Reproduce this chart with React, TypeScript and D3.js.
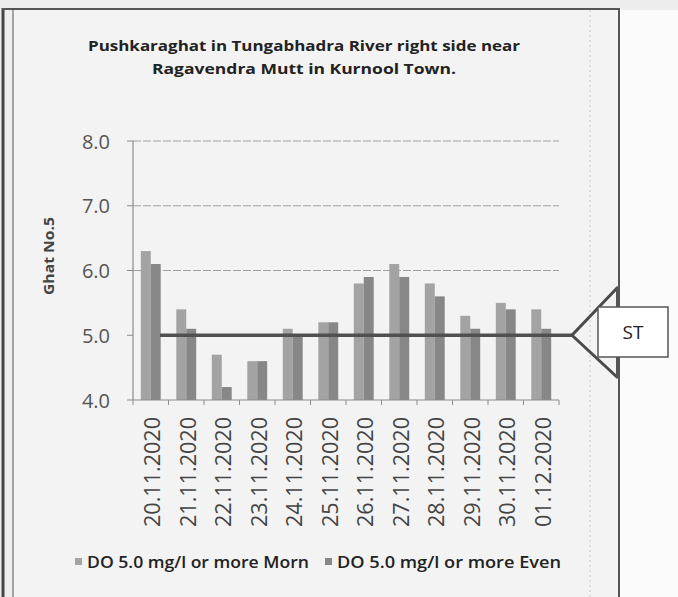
import React from "react";
import * as d3 from "d3";

const categories = [
  "20.11.2020", "21.11.2020", "22.11.2020", "23.11.2020", "24.11.2020", "25.11.2020",
  "26.11.2020", "27.11.2020", "28.11.2020", "29.11.2020", "30.11.2020", "01.12.2020",
];
const seriesNames = ["DO 5.0 mg/l or more Morn", "DO 5.0 mg/l or more Even"];
const morn = [6.3, 5.4, 4.7, 4.6, 5.1, 5.2, 5.8, 6.1, 5.8, 5.3, 5.5, 5.4];
const even = [6.1, 5.1, 4.2, 4.6, 5.0, 5.2, 5.9, 5.9, 5.6, 5.1, 5.4, 5.1];
const yTicks = [4, 5, 6, 7, 8];
const standard = 5.0;
const titleLines = [
  "Pushkaraghat in Tungabhadra River right side near",
  "Ragavendra Mutt in Kurnool Town.",
];
const yAxisTitle = "Ghat No.5";
const calloutLabel = "ST";

const W = 678;
const H = 597;
const colors = ["#a3a3a3", "#878787"];

export default function App() {
  const left = 133;
  const right = 559;
  const top = 141;
  const bottom = 400;

  const x0 = d3.scaleBand<string>().domain(categories).range([left, right]).paddingInner(0.44).paddingOuter(0.22);
  const x1 = d3.scaleBand<string>().domain(["m", "e"]).range([0, x0.bandwidth()]);
  const y = d3.scaleLinear().domain([4, 8]).range([bottom, top]);
  const step = x0.step();
  const font = "'Open Sans', 'DejaVu Sans', sans-serif";

  const boundaries = d3.range(categories.length + 1).map((i) => left + i * step);
  const stY = y(standard);

  return (
    <svg width={W} height={H} style={{ position: "absolute", left: 0, top: 0, display: "block" }}>
      <rect x={0} y={0} width={W} height={H} fill="#ededed" />
      <rect x={14} y={10} width={605} height={H - 10} fill="#f3f3f3" />
      <rect x={620} y={10} width={58} height={H - 10} fill="#fbfbfb" />
      {/* frame */}
      <line x1={3} x2={3} y1={8} y2={H} stroke="#444" strokeWidth={3} />
      <line x1={13} x2={13} y1={9} y2={H} stroke="#8a8a8a" strokeWidth={1.5} />
      <line x1={2} x2={620} y1={9} y2={9} stroke="#555" strokeWidth={2} />
      <line x1={619} x2={619} y1={9} y2={H} stroke="#555" strokeWidth={2} />
      <line x1={590} x2={590} y1={10} y2={H} stroke="#c8c8c8" strokeWidth={1} strokeDasharray="2,3" />

      {/* title */}
      {titleLines.map((t, i) => (
        <text key={i} x={304} y={45 + i * 23} textAnchor="middle" dominantBaseline="central"
          fontFamily={font} fontWeight={700} fontSize={14.5} fill="#222"
          textLength={i === 0 ? 432 : 304} lengthAdjust="spacingAndGlyphs">{t}</text>
      ))}

      {/* gridlines */}
      {yTicks.filter((v) => v !== 4 && v !== 5).map((v) => (
        <line key={v} x1={left} x2={right} y1={y(v)} y2={y(v)} stroke="#a0a0a0" strokeWidth={1} strokeDasharray="8,2" />
      ))}

      {/* y axis */}
      <line x1={left} x2={left} y1={top} y2={bottom} stroke="#8c8c8c" strokeWidth={1.2} />
      {yTicks.map((v) => (
        <g key={v}>
          <line x1={left - 6} x2={left} y1={y(v)} y2={y(v)} stroke="#8c8c8c" strokeWidth={1} />
          <text x={110} y={y(v)} textAnchor="end" dominantBaseline="central" fontFamily={font}
            fontSize={20} fill="#555">{v.toFixed(1)}</text>
        </g>
      ))}
      <text transform={`translate(48,256) rotate(-90)`} textAnchor="middle" dominantBaseline="central"
        fontFamily={font} fontWeight={700} fontSize={14} fill="#444"
        textLength={78} lengthAdjust="spacingAndGlyphs">{yAxisTitle}</text>

      {/* bars */}
      {categories.map((c, i) => (
        <g key={c} transform={`translate(${x0(c)},0)`}>
          {[morn[i], even[i]].map((v, j) => (
            <rect key={j} x={x1(j === 0 ? "m" : "e")} y={y(v)} width={x1.bandwidth()} height={bottom - y(v)}
              fill={colors[j]} />
          ))}
        </g>
      ))}

      {/* x axis */}
      <line x1={left} x2={right} y1={bottom} y2={bottom} stroke="#8c8c8c" strokeWidth={1.2} />
      {boundaries.map((bx, i) => (
        <line key={i} x1={bx} x2={bx} y1={bottom} y2={bottom + 5} stroke="#8c8c8c" strokeWidth={1} />
      ))}
      {categories.map((c) => (
        <text key={c} transform={`translate(${(x0(c) as number) + x0.bandwidth() / 2 + 1.5},417) rotate(-90)`}
          textAnchor="end" dominantBaseline="central" fontFamily={font} fontSize={21} fill="#444"
          textLength={110} lengthAdjust="spacingAndGlyphs">{c}</text>
      ))}

      {/* standard line */}
      <line x1={160} x2={572} y1={stY} y2={stY} stroke="#505050" strokeWidth={3.5} />
      {/* callout */}
      <polyline points={`618,287 572,${stY} 618,378`} fill="none" stroke="#4a4a4a" strokeWidth={3} />
      <line x1={618} x2={618} y1={287} y2={378} stroke="#555" strokeWidth={4} />
      <rect x={598} y={307} width={70} height={50} fill="#fff" stroke="#555" strokeWidth={1.5} />
      <text x={633} y={332} textAnchor="middle" dominantBaseline="central" fontFamily={font}
        fontSize={19} fill="#222">{calloutLabel}</text>

      {/* legend */}
      {seriesNames.map((s, i) => {
        const lx = i === 0 ? 75 : 325;
        return (
          <g key={s}>
            <rect x={lx} y={558} width={7} height={7} fill={colors[i]} />
            <text x={lx + 12} y={561.5} dominantBaseline="central" fontFamily={font} fontWeight={600}
              fontSize={16} fill="#222" textLength={i === 0 ? 222 : 224} lengthAdjust="spacingAndGlyphs">{s}</text>
          </g>
        );
      })}
    </svg>
  );
}
